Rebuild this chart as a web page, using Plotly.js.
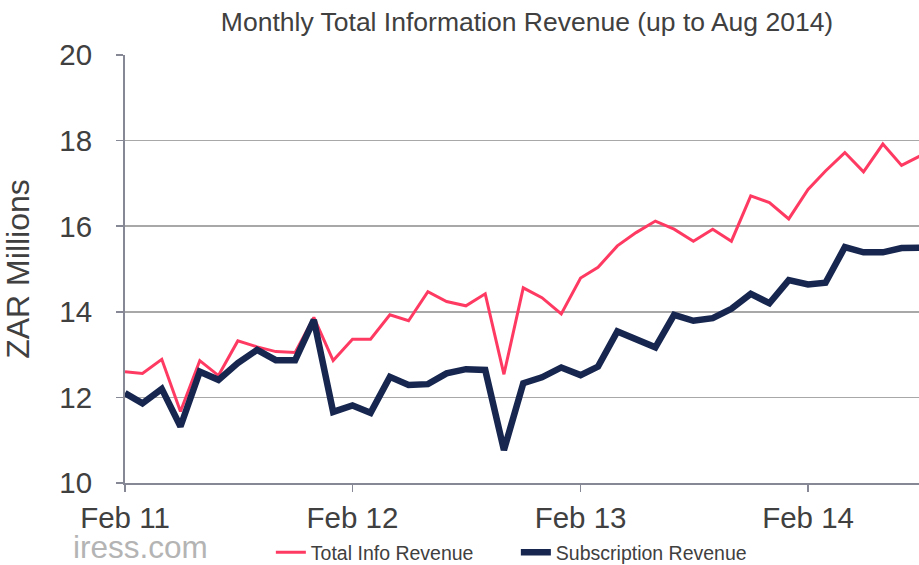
<!DOCTYPE html>
<html>
<head>
<meta charset="utf-8">
<script src="https://cdn.plot.ly/plotly-3.0.1.min.js"></script>
<style>
  html, body { margin: 0; padding: 0; background: #ffffff; }
  #chart { width: 919px; height: 565px; }
</style>
</head>
<body>
<div id="chart"></div>
<script>
// Months Feb 2011 .. Aug 2014
const months = [
  "2011-02-01","2011-03-01","2011-04-01","2011-05-01","2011-06-01","2011-07-01","2011-08-01","2011-09-01","2011-10-01","2011-11-01","2011-12-01",
  "2012-01-01","2012-02-01","2012-03-01","2012-04-01","2012-05-01","2012-06-01","2012-07-01","2012-08-01","2012-09-01","2012-10-01","2012-11-01","2012-12-01",
  "2013-01-01","2013-02-01","2013-03-01","2013-04-01","2013-05-01","2013-06-01","2013-07-01","2013-08-01","2013-09-01","2013-10-01","2013-11-01","2013-12-01",
  "2014-01-01","2014-02-01","2014-03-01","2014-04-01","2014-05-01","2014-06-01","2014-07-01","2014-08-01"
];

const totalInfoRevenue = [
  12.60, 12.56, 12.89, 11.67, 12.86, 12.51, 13.32, 13.18, 13.07, 13.05, 13.87,
  12.86, 13.36, 13.36, 13.93, 13.79, 14.47, 14.24, 14.14, 14.42, 12.54, 14.56, 14.33,
  13.95, 14.79, 15.04, 15.54, 15.85, 16.12, 15.93, 15.65, 15.93, 15.65, 16.71, 16.55,
  16.17, 16.86, 17.29, 17.72, 17.27, 17.92, 17.42, 17.65
];

const subscriptionRevenue = [
  12.10, 11.86, 12.20, 11.32, 12.60, 12.41, 12.80, 13.11, 12.87, 12.87, 13.81,
  11.66, 11.81, 11.64, 12.48, 12.29, 12.31, 12.56, 12.66, 12.64, 10.77, 12.33, 12.47,
  12.70, 12.52, 12.72, 13.54, 13.34, 13.17, 13.93, 13.79, 13.85, 14.07, 14.42, 14.20,
  14.74, 14.64, 14.68, 15.51, 15.39, 15.39, 15.49, 15.50
];

const xTickVals = ["2011-02-01", "2012-02-01", "2013-02-01", "2014-02-01"];
const xTickText = ["Feb 11", "Feb 12", "Feb 13", "Feb 14"];
const yTickVals = [10, 12, 14, 16, 18, 20];

const FONT = "Liberation Sans, Arial, sans-serif";
const TEXT = "#404040";
const AXIS = "#868995";

const traces = [
  {
    x: months, y: totalInfoRevenue, type: "scatter", mode: "lines",
    name: "Total Info Revenue",
    line: { color: "#ff3a62", width: 3 }
  },
  {
    x: months, y: subscriptionRevenue, type: "scatter", mode: "lines",
    name: "Subscription Revenue",
    line: { color: "#16264f", width: 6.5 }
  }
];

const layout = {
  width: 919, height: 565,
  margin: { l: 125, r: 0, t: 55, b: 82, pad: 0, autoexpand: false },
  paper_bgcolor: "#ffffff",
  plot_bgcolor: "#ffffff",
  font: { family: FONT, color: TEXT },
  showlegend: true,
  title: {
    text: "Monthly Total Information Revenue (up to Aug 2014)",
    font: { family: FONT, size: 26.5, color: TEXT },
    xref: "container", x: 0.5735, xanchor: "center",
    yref: "container", y: 0.962, yanchor: "middle"
  },
  xaxis: {
    type: "date",
    range: ["2011-02-01", "2014-07-29"],
    tickmode: "array", tickvals: xTickVals, ticktext: xTickText,
    ticks: "outside", ticklen: 7, tickwidth: 1.5, tickcolor: AXIS,
    showline: true, linecolor: AXIS, linewidth: 2,
    showgrid: false, zeroline: false,
    tickfont: { family: FONT, size: 29.5, color: TEXT },
    ticklabelstandoff: 1,
    automargin: false,
    fixedrange: true
  },
  yaxis: {
    range: [10, 20],
    tickmode: "array", tickvals: yTickVals,
    ticks: "outside", ticklen: 7, tickwidth: 1.5, tickcolor: AXIS,
    showline: true, linecolor: AXIS, linewidth: 2,
    showgrid: true, gridcolor: "#a8a8a8", gridwidth: 1.5,
    zeroline: false,
    tickfont: { family: FONT, size: 29.5, color: TEXT },
    ticklabelstandoff: 18,
    title: { text: "ZAR Millions", font: { family: FONT, size: 32, color: TEXT }, standoff: 20 },
    automargin: false,
    fixedrange: true
  },
  legend: {
    orientation: "h",
    xref: "paper", x: 0.1837, xanchor: "left",
    yref: "container", y: 0.022, yanchor: "middle",
    font: { family: FONT, size: 19.5, color: TEXT },
    bgcolor: "rgba(0,0,0,0)",
    entrywidth: 200
  },
  annotations: [
    {
      text: "iress.com", showarrow: false,
      xref: "paper", x: -0.068, xanchor: "left",
      yref: "paper", y: -0.149, yanchor: "middle",
      font: { family: FONT, size: 31.5, color: "#b4b4b4" }
    }
  ]
};

Plotly.newPlot("chart", traces, layout, { displayModeBar: false, staticPlot: true });
</script>
</body>
</html>
